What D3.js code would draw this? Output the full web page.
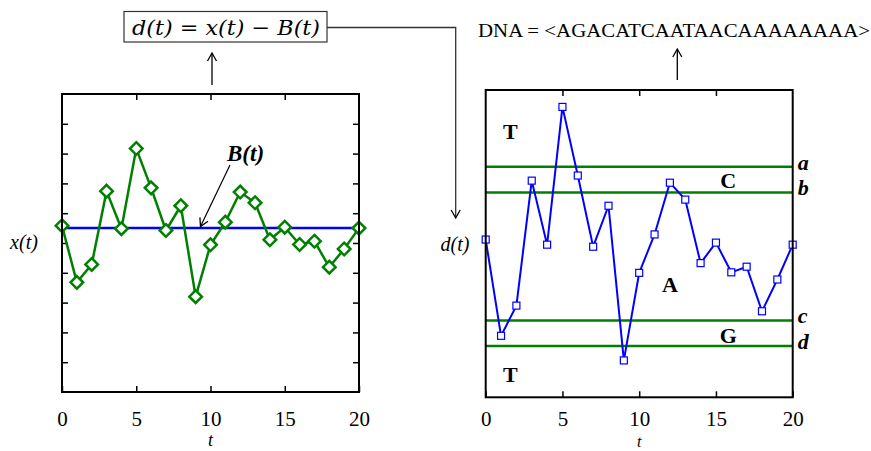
<!DOCTYPE html>
<html><head><meta charset="utf-8">
<script src="https://cdn.jsdelivr.net/npm/d3@7"></script>
<style>body{margin:0;background:#fff}svg{display:block}</style>
</head><body>
<script>
// ---- data ----
const tValues = d3.range(0, 21);
const xValues = [5.58,3.68,4.28,6.74,5.48,8.17,6.85,5.42,6.25,3.2,4.94,5.7,6.71,6.35,5.11,5.53,4.95,5.06,4.19,4.8,5.5];
const baseline = [5.5, 5.5]; // B(t) at t=0 and t=20
const dValues = [0.08,-1.8,-1.21,1.23,-0.02,2.67,1.33,-0.06,0.74,-2.28,-0.57,0.18,1.19,0.86,-0.38,0.02,-0.56,-0.45,-1.32,-0.7,-0.02];
const thresholdNames = ["a","b","c","d"];
const thresholdValues = [1.5, 1.0, -1.5, -2.0];
const regionLabels = ["T","C","A","G","T"];
const regionCenters = [2.2, 1.25, -0.78, -1.78, -2.55];
const regionT = [1.6, 15.8, 12.0, 15.8, 1.6];
const xTicks = [0,5,10,15,20];
const leftYTicks = [1,2,3,4,5,6,7,8,9];
const dnaText = "DNA = <AGACATCAATAACAAAAAAAA>";
const equation = "d(t) = x(t) \u2212 B(t)";

const W = 871, H = 451;
const svg = d3.select("body").append("svg").attr("width", W).attr("height", H);
const serif = "'Liberation Serif','Times New Roman',serif";

const defs = svg.append("defs");
defs.append("marker").attr("id","vhead").attr("viewBox","-10 -6 12 12")
  .attr("refX",0).attr("refY",0).attr("markerWidth",12).attr("markerHeight",12)
  .attr("markerUnits","userSpaceOnUse").attr("orient","auto")
  .append("path").attr("d","M-8,-4.5L0,0L-8,4.5").attr("fill","none").attr("stroke","#000").attr("stroke-width",1.3);

function styleAxis(g){
  g.attr("font-family",serif).attr("font-size",21);
  g.select(".domain").remove();
  g.selectAll(".tick line").attr("stroke","#000").attr("stroke-width",1.5);
  g.selectAll(".tick text").attr("fill","#000");
}

// ---- left panel ----
const xL = d3.scaleLinear().domain([0,20]).range([62,359]);
const yL = d3.scaleLinear().domain([0,10]).range([392,94]);

const gL = svg.append("g");
gL.append("g").attr("transform",`translate(0,${yL(0)})`)
  .call(d3.axisBottom(xL).tickValues(xTicks).tickSizeInner(-6).tickSizeOuter(0).tickPadding(19))
  .call(styleAxis);
gL.append("g").attr("transform",`translate(0,${yL(10)})`)
  .call(d3.axisTop(xL).tickValues(xTicks.slice(1,4)).tickSizeInner(-6).tickSizeOuter(0).tickFormat(""))
  .call(styleAxis);
gL.append("g").attr("transform",`translate(${xL(0)},0)`)
  .call(d3.axisLeft(yL).tickValues(leftYTicks).tickSizeInner(-6).tickSizeOuter(0).tickFormat(""))
  .call(styleAxis);
gL.append("g").attr("transform",`translate(${xL(20)},0)`)
  .call(d3.axisRight(yL).tickValues(leftYTicks).tickSizeInner(-6).tickSizeOuter(0).tickFormat(""))
  .call(styleAxis);

gL.append("line").attr("x1",xL(0)).attr("x2",xL(20)).attr("y1",yL(baseline[0])).attr("y2",yL(baseline[1]))
  .attr("stroke","#0000ff").attr("stroke-width",2.5);
gL.append("path").datum(xValues)
  .attr("d", d3.line().x((v,i)=>xL(tValues[i])).y(v=>yL(v)))
  .attr("fill","none").attr("stroke","#008000").attr("stroke-width",2.5);
gL.selectAll("path.dia").data(xValues).join("path").attr("class","dia")
  .attr("d", (v,i)=>{const cx=xL(tValues[i]), cy=yL(v), r=6.3; return `M${cx},${cy-r}L${cx+r},${cy}L${cx},${cy+r}L${cx-r},${cy}Z`;})
  .attr("fill","#fff").attr("stroke","#008000").attr("stroke-width",2.5);
gL.append("rect").attr("x",xL(0)).attr("y",yL(10)).attr("width",xL(20)-xL(0)).attr("height",yL(0)-yL(10))
  .attr("fill","none").attr("stroke","#000").attr("stroke-width",2);
gL.append("text").attr("x",227).attr("y",161).attr("font-family",serif).attr("font-size",23)
  .attr("font-weight","bold").attr("font-style","italic").text("B(t)");
gL.append("line").attr("x1",230).attr("y1",165).attr("x2",200.5).attr("y2",226.5)
  .attr("stroke","#000").attr("stroke-width",1.2).attr("marker-end","url(#vhead)");
gL.append("text").attr("x",24).attr("y",249).attr("text-anchor","middle").attr("font-family",serif)
  .attr("font-size",20).attr("font-style","italic").text("x(t)");
gL.append("text").attr("x",xL(10)).attr("y",446).attr("text-anchor","middle").attr("font-family",serif)
  .attr("font-size",18).attr("font-style","italic").text("t");

// ---- equation box ----
svg.append("rect").attr("x",124).attr("y",11.5).attr("width",203).attr("height",30.5)
  .attr("fill","#fff").attr("stroke","#333").attr("stroke-width",1.2);
svg.append("text").attr("x",132).attr("y",35).attr("font-family","'DejaVu Serif',serif")
  .attr("font-size",21).attr("font-style","italic").attr("textLength",188).attr("lengthAdjust","spacingAndGlyphs")
  .text(equation);
svg.append("line").attr("x1",212).attr("y1",85).attr("x2",212).attr("y2",53)
  .attr("stroke","#000").attr("stroke-width",1.3).attr("marker-end","url(#vhead)");
svg.append("path").attr("d","M327,27.5H455.7V218").attr("fill","none")
  .attr("stroke","#333").attr("stroke-width",1.3).attr("marker-end","url(#vhead)");

// ---- right panel ----
const xR = d3.scaleLinear().domain([0,20]).range([485.7,792.7]);
const yR = d3.scaleLinear().domain([-3,3]).range([397.3,90]);
const gR = svg.append("g");
gR.append("g").attr("transform",`translate(0,${yR(-3)})`)
  .call(d3.axisBottom(xR).tickValues(xTicks).tickSizeInner(-6).tickSizeOuter(0).tickPadding(14))
  .call(styleAxis);
gR.append("g").attr("transform",`translate(0,${yR(3)})`)
  .call(d3.axisTop(xR).tickValues(xTicks.slice(1,4)).tickSizeInner(-6).tickSizeOuter(0).tickFormat(""))
  .call(styleAxis);

gR.selectAll("line.thr").data(thresholdValues).join("line").attr("class","thr")
  .attr("x1",xR(0)).attr("x2",xR(20)).attr("y1",v=>yR(v)).attr("y2",v=>yR(v))
  .attr("stroke","#008000").attr("stroke-width",2.5);
gR.selectAll("text.thr").data(thresholdNames).join("text").attr("class","thr")
  .attr("x",xR(20)+5).attr("y",(n,i)=>yR(thresholdValues[i])+3)
  .attr("font-family",serif).attr("font-size",22).attr("font-weight","bold").attr("font-style","italic")
  .text(n=>n);
gR.selectAll("text.reg").data(regionLabels).join("text").attr("class","reg")
  .attr("x",(n,i)=>xR(regionT[i])).attr("y",(n,i)=>yR(regionCenters[i])+8).attr("text-anchor","middle")
  .attr("font-family",serif).attr("font-size",22).attr("font-weight","bold").text(n=>n);
gR.append("path").datum(dValues)
  .attr("d", d3.line().x((v,i)=>xR(tValues[i])).y(v=>yR(v)))
  .attr("fill","none").attr("stroke","#0000ff").attr("stroke-width",2);
gR.selectAll("rect.sq").data(dValues).join("rect").attr("class","sq")
  .attr("x",(v,i)=>xR(tValues[i])-3.5).attr("y",v=>yR(v)-3.5).attr("width",7).attr("height",7)
  .attr("fill","#fff").attr("stroke","#0000ff").attr("stroke-width",1.2);
gR.append("rect").attr("x",xR(0)).attr("y",yR(3)).attr("width",xR(20)-xR(0)).attr("height",yR(-3)-yR(3))
  .attr("fill","none").attr("stroke","#000").attr("stroke-width",2);
gR.append("text").attr("x",455).attr("y",251).attr("text-anchor","middle").attr("font-family",serif)
  .attr("font-size",20).attr("font-style","italic").text("d(t)");
gR.append("text").attr("x",xR(10)).attr("y",446.5).attr("text-anchor","middle").attr("font-family",serif)
  .attr("font-size",16).attr("font-style","italic").text("t");

svg.append("text").attr("x",478).attr("y",37).attr("font-family",serif).attr("font-size",18)
  .attr("textLength",392).attr("lengthAdjust","spacingAndGlyphs").text(dnaText);
svg.append("line").attr("x1",677.3).attr("y1",80).attr("x2",677.3).attr("y2",49)
  .attr("stroke","#000").attr("stroke-width",1.3).attr("marker-end","url(#vhead)");
</script>
</body></html>
